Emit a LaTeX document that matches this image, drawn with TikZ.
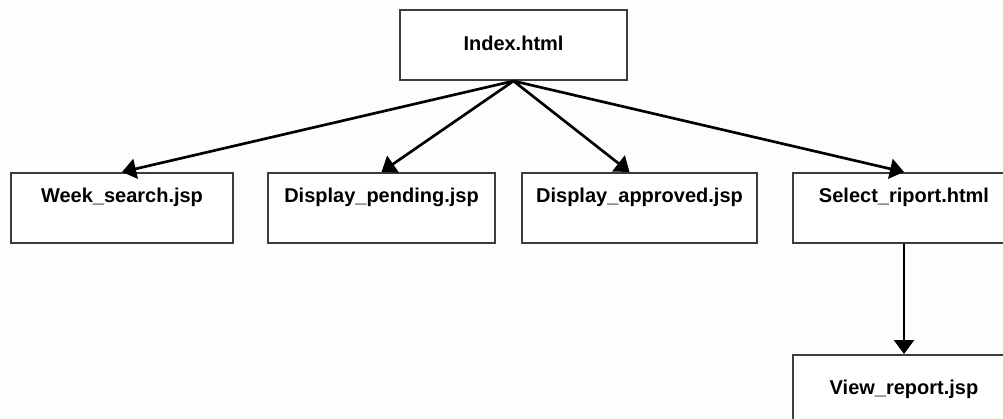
\documentclass[tikz,border=0pt]{standalone}
\usepackage{fontspec}
\setmainfont{Liberation Sans}
\usepackage{tikz}
\usetikzlibrary{arrows.meta,positioning}
\definecolor{BoxGray}{HTML}{3C3C3C}
\definecolor{PageWhite}{HTML}{FDFDFD}
\tikzset{
  page/.style={draw=BoxGray,line width=1.5pt,fill=white,minimum width=166.5pt,
    minimum height=52.5pt,inner sep=2pt,font=\bfseries\fontsize{15}{18}\selectfont,
    text height=11pt,text depth=3pt},
  lowpage/.style={page,text depth=19pt},
  link/.style={-{Triangle[length=10.5pt,width=15pt]},line width=2pt,draw=black}
}

\begin{document}
\begin{tikzpicture}[x=0.75pt,y=-0.75pt]
  \fill[PageWhite] (0,0) rectangle (1003,418);
  \clip (0,0) rectangle (1003,418);
  \useasboundingbox (0,0) rectangle (1003,418);
  % pages
  \node[page,minimum width=170pt] (index) at (513.5,45) {Index.html};
  \node[lowpage] (weeksearch) at (122,208) {Week\_search.jsp};
  \node[lowpage,minimum width=170pt] (pending) at (381.5,208) {Display\_pending.jsp};
  \node[lowpage,minimum width=176pt] (approved) at (639.5,208) {Display\_approved.jsp};
  \node[lowpage] (selectriport) at (904,208) {Select\_riport.html};
  \node[page,text depth=5pt] (viewreport) at (904,390) {View\_report.jsp};
  % links
  \draw[link] (index.south) -- (weeksearch.north);
  \draw[link] (index.south) -- (pending.north);
  \draw[link] (index.south) -- ([xshift=-7.5pt]approved.north);
  \draw[link] (index.south) -- (selectriport.north);
  \draw[link] (selectriport.south) -- (viewreport.north);
\end{tikzpicture}
\end{document}
